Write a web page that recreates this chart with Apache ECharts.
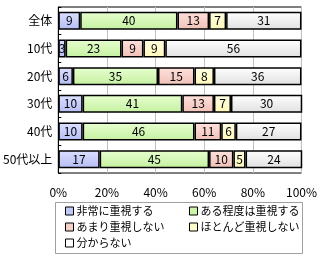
<!DOCTYPE html>
<html><head><meta charset="utf-8">
<script src="https://cdn.jsdelivr.net/npm/echarts@6/dist/echarts.min.js"></script>
<style>html,body{margin:0;padding:0;background:#fff}#c{width:320px;height:260px}</style>
</head><body><div id="c"></div>
<script>
const categories = ['全体','10代','20代','30代','40代','50代以上'];
const seriesNames = ['非常に重視する','ある程度は重視する','あまり重視しない','ほとんど重視しない','分からない'];
const s1 = [9,3,6,10,10,17];
const s2 = [40,23,35,41,46,45];
const s3 = [13,9,15,13,11,10];
const s4 = [7,9,8,7,6,5];
const s5 = [31,56,36,30,27,24];
const xTicks = ['0%','20%','40%','60%','80%','100%'];

const values = [s1,s2,s3,s4,s5];
const colorsTop = ['#dde0ff','#e8ffd0','#ffe2dc','#ffffe4','#ffffff'];
const colorsBot = ['#b4bcf4','#c4f0a0','#f0c0b8','#fff8b8','#e0e0e0'];
const legendColors = ['#c0c8f8','#ccf5a8','#f5d0c8','#ffffc8','#ffffff'];
const font = '"Noto Sans CJK JP", sans-serif';
const legendPos = [[65,211],[189,211],[65,227],[189,227],[65,243]];

const chart = echarts.init(document.getElementById('c'), null, {renderer:'canvas'});
chart.setOption({
  animation:false,
  grid:{left:58,right:18,top:7,bottom:87,show:true,borderColor:'#000',borderWidth:1,backgroundColor:'#fff'},
  xAxis:{type:'value',min:0,max:100,interval:20,
    axisLine:{show:false},axisTick:{show:false},
    splitLine:{show:true,lineStyle:{color:'#c0c0c0',width:1}},
    axisLabel:{margin:13,fontSize:12,color:'#000',fontFamily:font,
      formatter:function(v){return xTicks[Math.round(v/20)];}}},
  yAxis:{type:'category',data:categories,inverse:true,
    axisLine:{show:true,lineStyle:{color:'#000'}},
    axisTick:{show:true,inside:true,length:3,lineStyle:{color:'#000'}},
    axisLabel:{margin:6,fontSize:12,color:'#000',fontFamily:font}},
  legend: seriesNames.map((n,i)=>({
    orient:'horizontal',left:legendPos[i][0],top:legendPos[i][1]-7,padding:0,
    itemWidth:8,itemHeight:8,itemGap:0,selectedMode:false,
    textStyle:{fontSize:11,color:'#000',fontFamily:font,padding:[0,0,0,-2],lineHeight:14},
    data:[{name:n,icon:'rect',itemStyle:{color:legendColors[i],borderColor:'#000',borderWidth:1}}]
  })),
  graphic:[{type:'rect',shape:{x:55.5,y:202.5,width:247,height:51},style:{fill:'none',stroke:'#a0a0a0',lineWidth:1},z:-1}],
  series: values.map((arr,i)=>({
    name:seriesNames[i],type:'bar',stack:'all',data:arr,barWidth:18,
    itemStyle:{borderColor:'#000',borderWidth:1.5,
      color:new echarts.graphic.LinearGradient(0,0,0,1,[{offset:0,color:colorsTop[i]},{offset:1,color:colorsBot[i]}])},
    label:{show:true,position:'inside',color:'#000',fontSize:12,fontFamily:font},
    emphasis:{disabled:true}
  }))
});
</script></body></html>
